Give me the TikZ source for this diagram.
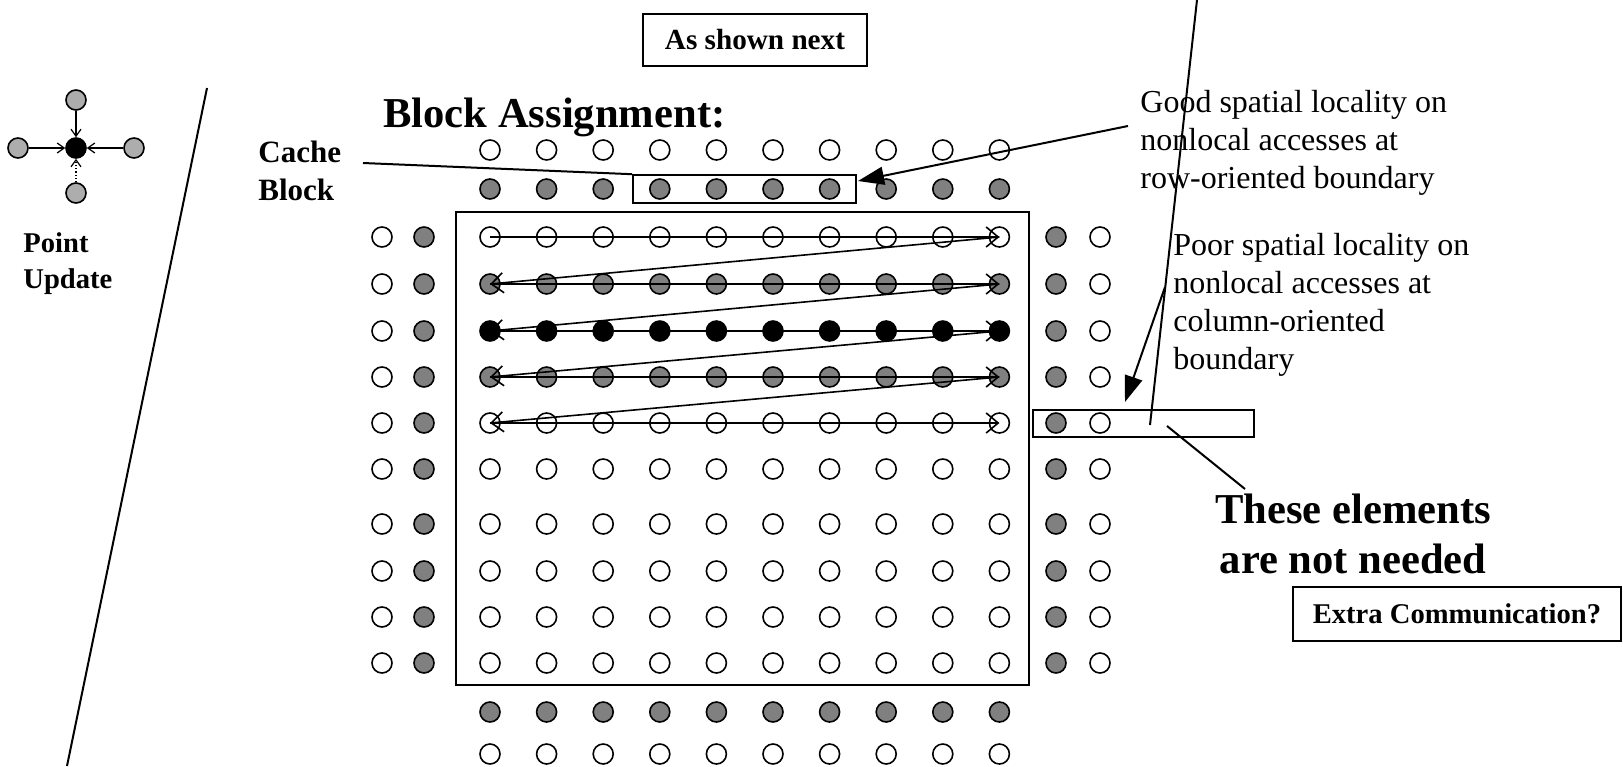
\documentclass[tikz,border=0pt]{standalone}
\usepackage{fontspec}
\setmainfont{Liberation Serif}
\usetikzlibrary{positioning,fit,arrows.meta}
\tikzset{dot/.style={circle, draw, line width=0.8pt, minimum size=10pt, inner sep=0pt},
    blank/.style={dot, fill=white}, halo/.style={dot, fill=black!50}, owned/.style={dot, fill=black},
    feed/.style={dot, fill=black!32},
    frame/.style={draw, line width=1pt, inner sep=0pt},
    line/.style={-{Straight Barb[length=6pt,width=10pt]}, line width=0.8pt},
    tip/.style={-{Straight Barb[length=3.5pt,width=5pt]}, line width=0.6pt},
    pointer/.style={-{Triangle[length=13pt,width=9pt]}, line width=1pt},
    plain/.style={font=\fontsize{16}{19}\selectfont, align=left, inner sep=0pt},
    title/.style={font=\fontsize{21.3}{25}\selectfont\bfseries, inner sep=0pt}}

\begin{document}
\begin{tikzpicture}[x=0.5pt, y=-0.5pt]
    \useasboundingbox (0,0) rectangle (1623,766);

    % point update
    \node[owned]             (pu)  at (76,148) {};
    \node[feed]              (pun) at (76,100) {};
    \node[feed]              (pus) at (76,193) {};
    \node[feed]              (puw) at (18,148) {};
    \node[feed]              (pue) at (134,148) {};
    \draw[tip]               (pun)-- (pu);
    \draw[tip,densely dotted] (pus)-- (pu);
    \draw[tip]               (puw)-- (pu);
    \draw[tip]               (pue)-- (pu);
    \node[font=\fontsize{14.3}{18}\selectfont\bfseries, align=left, inner sep=0pt, anchor=base west]
                             (pulbl) at (23,288) {Point\\Update};

    \coordinate (cut1) at (207,88);
    \coordinate (cut2) at (67,766);
    \draw[line width=1pt]    (cut1)-- (cut2);

    % titles
    \node[frame, minimum width=112pt, minimum height=26pt, font=\fontsize{14.6}{17}\selectfont\bfseries]
                             (next) at (755,40) {As shown next};
    \node[title, anchor=base west] (assign) at (383,127) {Block Assignment:};
    \node[font=\fontsize{15.5}{19}\selectfont\bfseries, align=left, inner sep=0pt, anchor=base west]
                             (cachelbl) at (258,200) {Cache\\Block};

    % grid
    \foreach \c in {1,...,10} {
        \pgfmathsetmacro\x{490+56.6*(\c-1)}
        \node[blank] (t1-\c) at (\x,150) {};
        \node[halo]  (t2-\c) at (\x,189) {};
        \node[halo]  (b1-\c) at (\x,712) {};
        \node[blank] (b2-\c) at (\x,754) {};
    }
    \foreach \r/\kind/\y in {1/blank/237,2/halo/284,3/owned/331,4/halo/377,5/blank/423,
                             6/blank/469,7/blank/524,8/blank/571,9/blank/617,10/blank/663} {
        \node[blank] (l1-\r) at (382,\y) {};
        \node[halo]  (l2-\r) at (424,\y) {};
        \node[halo]  (r1-\r) at (1056,\y) {};
        \node[blank] (r2-\r) at (1100,\y) {};
        \foreach \c in {1,...,10} {
            \pgfmathsetmacro\x{490+56.6*(\c-1)}
            \node[\kind] (p-\r-\c) at (\x,\y) {};
        }
    }

    \node[frame, minimum width=286.5pt, minimum height=236.5pt] (block) at (742.5,448.5) {};
    \node[frame, fit=(t2-4)(t2-7), inner xsep=8pt, inner ysep=1.5pt] (cache) {};
    \node[frame, minimum width=110.5pt, minimum height=13.5pt] (spare) at (1143.5,423.5) {};

    % traversal order
    \foreach \r [evaluate=\r as \n using int(\r+1)] in {1,...,4} {
        \draw[line] (p-\r-1.center)-- (p-\r-10.center);
        \draw[line] (p-\r-10.center)-- (p-\n-1.center);
    }
    \draw[line]  (p-5-1.center)-- (p-5-10.center);

    % labels on the right
    \node[plain, anchor=base west] (good) at (1140,188)
        {Good spatial locality on\\nonlocal accesses at\\row-oriented boundary};
    \node[plain, anchor=base west] (poor) at (1173,369)
        {Poor spatial locality on\\nonlocal accesses at\\column-oriented\\boundary};
    \node[title, align=center, anchor=base] (needed) at (1353,573)
        {These elements\\are not needed};
    \node[frame, minimum width=164pt, minimum height=27pt, font=\fontsize{14.3}{17}\selectfont\bfseries]
                             (extra) at (1457,614) {Extra Communication?};

    \coordinate (cachetail) at (363,163);
    \coordinate (goodtail)  at (1128,126);
    \coordinate (goodtip)   at (858,181);
    \coordinate (poortail)  at (1165,287);
    \coordinate (poortip)   at (1125,402);
    \coordinate (longtop)   at (1197,0);
    \coordinate (longend)   at (1150,425);
    \coordinate (neededtail) at (1167,426);
    \coordinate (neededtip) at (1245,489);

    \draw[line width=1pt]    (cachetail)-- (cache.north west);
    \draw[pointer]           (goodtail)-- (goodtip);
    \draw[pointer]           (poortail)-- (poortip);
    \draw[line width=1pt]    (longtop)-- (longend);
    \draw[line width=1pt]    (neededtail)-- (neededtip);
\end{tikzpicture}
\end{document}
